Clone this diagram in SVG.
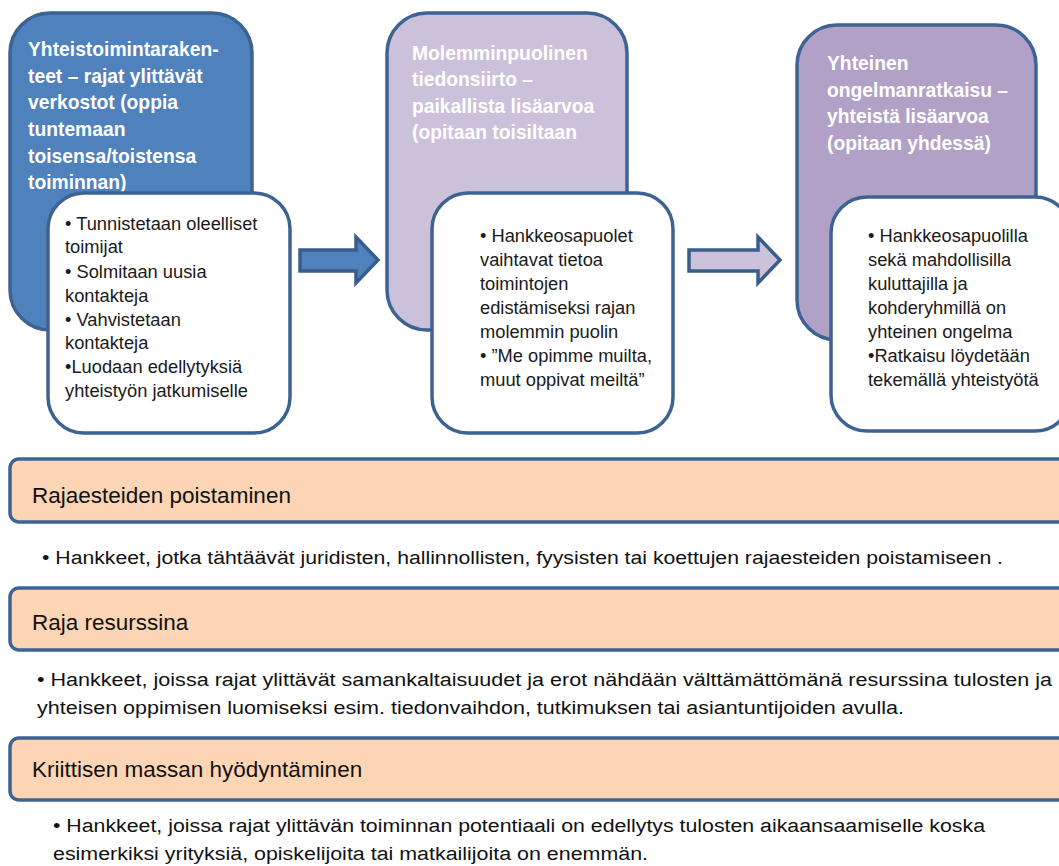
<svg xmlns="http://www.w3.org/2000/svg" width="1059" height="866" viewBox="0 0 1059 866">
<style>
.hdr{font-family:"Liberation Sans",Arial,sans-serif;font-weight:bold;font-size:19.3px;fill:#ffffff}
.body{font-family:"Liberation Sans",Arial,sans-serif;font-size:18.3px;fill:#1a1a1a}
.band{fill:#fcd5b5;stroke:#3e6393;stroke-width:3.5}
.bandt{font-family:"Liberation Sans",Arial,sans-serif;font-size:22.5px;fill:#111111}
.bul{font-family:"Liberation Sans",Arial,sans-serif;font-size:18px;fill:#111111}
.wbox{fill:#ffffff;stroke:#3e6393;stroke-width:3.5}
.outer{stroke:#3e6393;stroke-width:3.5}
.arrow{stroke:#385d8a;stroke-width:3.5;stroke-linejoin:miter}
</style>
<rect width="1059" height="866" fill="#ffffff"/>

<g id="node1">
<rect class="outer" x="10" y="13" width="242" height="317" rx="40" fill="#4f81bd"/>
<text class="hdr" x="28" y="56">Yhteistoimintaraken-</text>
<text class="hdr" x="28" y="83">teet – rajat ylittävät</text>
<text class="hdr" x="28" y="109">verkostot (oppia</text>
<text class="hdr" x="28" y="136">tuntemaan</text>
<text class="hdr" x="28" y="163">toisensa/toistensa</text>
<text class="hdr" x="28" y="189">toiminnan)</text>
</g>
<g id="node1b">
<rect class="wbox" x="48" y="193" width="242" height="240" rx="36"/>
<text class="body" x="65" y="230">• Tunnistetaan oleelliset</text>
<text class="body" x="65" y="253">toimijat</text>
<text class="body" x="65" y="278">• Solmitaan uusia</text>
<text class="body" x="65" y="302">kontakteja</text>
<text class="body" x="65" y="326">• Vahvistetaan</text>
<text class="body" x="65" y="349">kontakteja</text>
<text class="body" x="65" y="373">•Luodaan edellytyksiä</text>
<text class="body" x="65" y="397">yhteistyön jatkumiselle</text>
</g>

<g id="node2">
<rect class="outer" x="387" y="13" width="240" height="317" rx="40" fill="#ccc1da"/>
<text class="hdr" x="412" y="60">Molemminpuolinen</text>
<text class="hdr" x="412" y="86">tiedonsiirto –</text>
<text class="hdr" x="412" y="113">paikallista lisäarvoa</text>
<text class="hdr" x="412" y="139">(opitaan toisiltaan</text>
</g>
<g id="node2b">
<rect class="wbox" x="432" y="193" width="241" height="240" rx="36"/>
<text class="body" x="480" y="242">• Hankkeosapuolet</text>
<text class="body" x="480" y="266">vaihtavat tietoa</text>
<text class="body" x="480" y="290">toimintojen</text>
<text class="body" x="480" y="314">edistämiseksi rajan</text>
<text class="body" x="480" y="338">molemmin puolin</text>
<text class="body" x="480" y="362">• ”Me opimme muilta,</text>
<text class="body" x="480" y="386">muut oppivat meiltä”</text>
</g>

<g id="node3">
<rect class="outer" x="797" y="25" width="239" height="315" rx="40" fill="#b2a1c7"/>
<text class="hdr" x="827" y="70">Yhteinen</text>
<text class="hdr" x="827" y="97">ongelmanratkaisu –</text>
<text class="hdr" x="827" y="123">yhteistä lisäarvoa</text>
<text class="hdr" x="827" y="150">(opitaan yhdessä)</text>
</g>
<g id="node3b">
<rect class="wbox" x="831" y="197" width="240" height="234" rx="36"/>
<text class="body" x="868" y="242">• Hankkeosapuolilla</text>
<text class="body" x="868" y="266">sekä mahdollisilla</text>
<text class="body" x="868" y="290">kuluttajilla ja</text>
<text class="body" x="868" y="314">kohderyhmillä on</text>
<text class="body" x="868" y="338">yhteinen ongelma</text>
<text class="body" x="868" y="362">•Ratkaisu löydetään</text>
<text class="body" x="868" y="386">tekemällä yhteistyötä</text>
</g>

<g id="connectors">
<polygon class="arrow" fill="#4f81bd" points="300,250 356,250 356,237 378,260 356,283 356,271 300,271"/>
<polygon class="arrow" fill="#ccc1da" points="689,250 758,250 758,237 780,260 758,283 758,271 689,271"/>
</g>

<g id="band1">
<rect class="band" x="10" y="459" width="1065" height="63" rx="9"/>
<text class="bandt" x="32" y="503">Rajaesteiden poistaminen</text>
<text class="bul" x="42" y="564" textLength="961" lengthAdjust="spacingAndGlyphs">• Hankkeet, jotka tähtäävät juridisten, hallinnollisten, fyysisten tai koettujen rajaesteiden poistamiseen .</text>
</g>

<g id="band2">
<rect class="band" x="10" y="588" width="1065" height="62" rx="9"/>
<text class="bandt" x="32" y="630">Raja resurssina</text>
<text class="bul" x="37" y="686" textLength="1015" lengthAdjust="spacingAndGlyphs">• Hankkeet, joissa rajat ylittävät samankaltaisuudet ja erot nähdään välttämättömänä resurssina tulosten ja</text>
<text class="bul" x="37" y="714" textLength="867" lengthAdjust="spacingAndGlyphs">yhteisen oppimisen luomiseksi esim. tiedonvaihdon, tutkimuksen tai asiantuntijoiden avulla.</text>
</g>

<g id="band3">
<rect class="band" x="10" y="738" width="1065" height="62" rx="9"/>
<text class="bandt" x="32" y="777">Kriittisen massan hyödyntäminen</text>
<text class="bul" x="53" y="832" textLength="932" lengthAdjust="spacingAndGlyphs">• Hankkeet, joissa rajat ylittävän toiminnan potentiaali on edellytys tulosten aikaansaamiselle koska</text>
<text class="bul" x="53" y="860" textLength="595" lengthAdjust="spacingAndGlyphs">esimerkiksi yrityksiä, opiskelijoita tai matkailijoita on enemmän.</text>
</g>
</svg>
